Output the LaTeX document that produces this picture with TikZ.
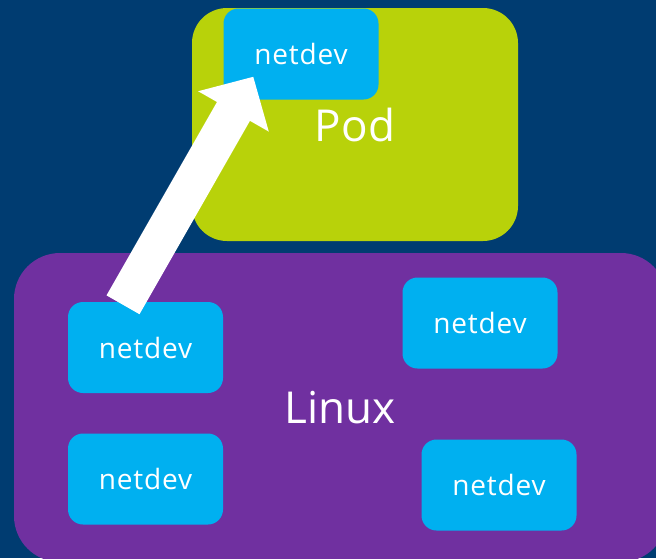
\documentclass[tikz,border=0pt]{standalone}
\usepackage{fontspec}
\setmainfont{Open Sans}
\newfontfamily\devfont[LetterSpace=3]{Open Sans}
\usetikzlibrary{positioning, calc, arrows.meta}
\definecolor{bgblue}{RGB}{0,60,113}
\definecolor{podgreen}{RGB}{184,210,10}
\definecolor{hostpurple}{RGB}{112,48,160}
\definecolor{devcyan}{RGB}{0,176,240}
\tikzstyle{NetDev} = [
fill=devcyan, rounded corners=15pt,
minimum width=155pt, minimum height=91pt,
text=white, font=\devfont\fontsize{28}{32}\selectfont]
\tikzstyle{Box} = [
text=white, font=\fontsize{44}{50}\selectfont]
\tikzstyle{Arrow} = [
white, line width=38pt,
-{Triangle[length=40pt, width=79pt]}]

\begin{document}
\begin{tikzpicture}[x=1pt, y=-1pt]
    \fill [bgblue] (0,0) rectangle (656,558);
    \useasboundingbox (0,0) rectangle (656,558);

    \node [Box, fill=podgreen, rounded corners=35pt,
        minimum width=326pt, minimum height=233pt](1) at (355,124.5){Pod};
    \node [Box, fill=hostpurple, rounded corners=46pt,
        minimum width=653pt, minimum height=309pt](2) at (340.5,407.5){Linux};

    \node [NetDev](3) at (301,54){netdev};
    \node [NetDev](4) at (145.5,347.5){netdev};
    \node [NetDev](5) at (145.5,479){netdev};
    \node [NetDev](6) at (480,323){netdev};
    \node [NetDev](7) at (499,485){netdev};

    \coordinate (tail) at ($(4.north)+(-22.5,3)$);
    \coordinate (tip) at ($(3.south west)+(30,-23)$);
    \draw [Arrow] (tail) to (tip);
\end{tikzpicture}
\end{document}
